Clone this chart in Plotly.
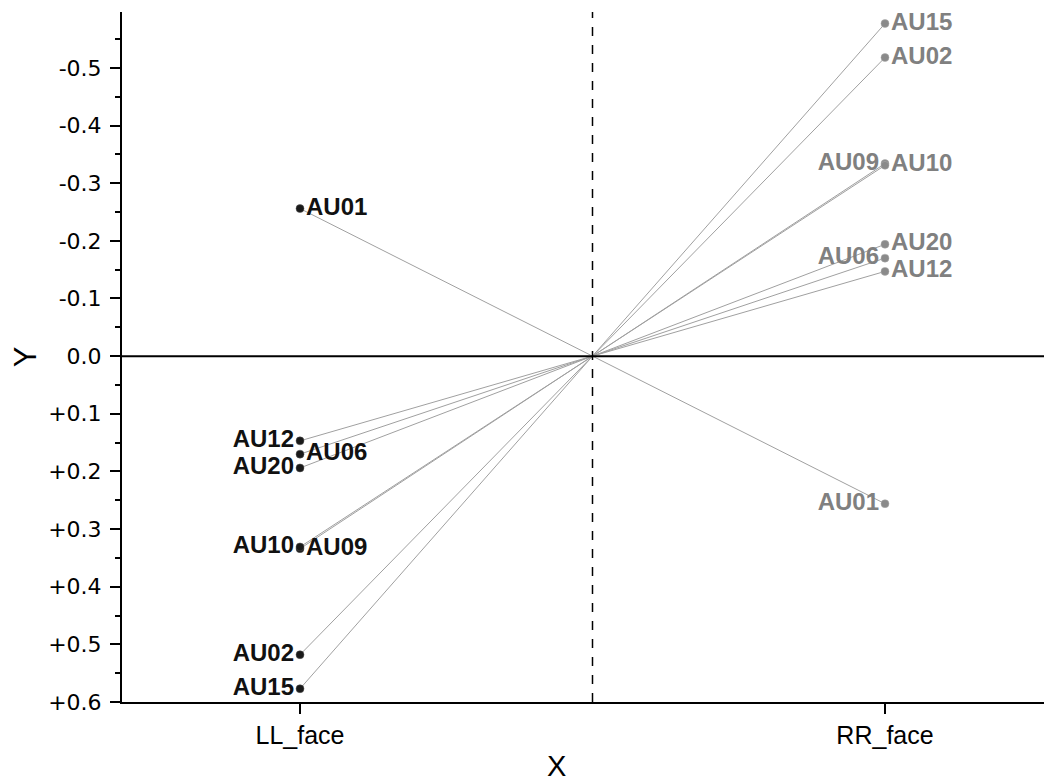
import plotly.graph_objects as go

faces = ["LL_face", "RR_face"]
aus = ["AU01", "AU02", "AU06", "AU09", "AU10", "AU12", "AU15", "AU20"]
ll_vals = [-0.256, 0.518, 0.170, 0.334, 0.331, 0.147, 0.577, 0.194]
rr_vals = [0.256, -0.518, -0.170, -0.334, -0.331, -0.147, -0.577, -0.194]
ytick_vals = [-0.5, -0.4, -0.3, -0.2, -0.1, 0.0, 0.1, 0.2, 0.3, 0.4, 0.5, 0.6]
ytick_text = ["-0.5", "-0.4", "-0.3", "-0.2", "-0.1", "0.0", "+0.1", "+0.2", "+0.3", "+0.4", "+0.5", "+0.6"]

# label placement (style)
ll_pos = {"AU01": "middle right", "AU02": "middle left", "AU06": "middle right",
          "AU09": "middle right", "AU10": "middle left", "AU12": "middle left",
          "AU15": "middle left", "AU20": "middle left"}
rr_pos = {"AU01": "middle left", "AU02": "middle right", "AU06": "middle left",
          "AU09": "middle left", "AU10": "middle right", "AU12": "middle right",
          "AU15": "middle right", "AU20": "middle right"}

FONT = "Liberation Sans, Arial, sans-serif"
TICKFONT = "DejaVu Sans, sans-serif"
fig = go.Figure()

# connecting lines
lx, ly = [], []
for a, l, r in zip(aus, ll_vals, rr_vals):
    lx += [0, 1, None]
    ly += [l, r, None]
fig.add_trace(go.Scatter(x=lx, y=ly, mode="lines",
                         line=dict(color="#a0a0a0", width=1), hoverinfo="skip",
                         showlegend=False))

# zero line and centre dashed line
fig.add_hline(y=0, line=dict(color="black", width=2))
fig.add_vline(x=0.5, line=dict(color="black", width=1.5, dash="dash"))

fig.add_trace(go.Scatter(x=[0] * len(aus), y=ll_vals, mode="markers+text",
                         text=aus, textposition=[ll_pos[a] for a in aus],
                         textfont=dict(family=FONT, size=24, color="#111111", weight="bold"),
                         marker=dict(size=8, color="#1a1a1a", line=dict(color="#555", width=0.5)),
                         showlegend=False, cliponaxis=False))
fig.add_trace(go.Scatter(x=[1] * len(aus), y=rr_vals, mode="markers+text",
                         text=aus, textposition=[rr_pos[a] for a in aus],
                         textfont=dict(family=FONT, size=24, color="#808080", weight="bold"),
                         marker=dict(size=8, color="#8a8a8a", line=dict(color="#aaa", width=0.5)),
                         showlegend=False, cliponaxis=False))

# axis titles
fig.add_annotation(text="X", xref="paper", yref="paper", x=0.4667, y=-0.066,
                   yanchor="top", xanchor="center", showarrow=False,
                   font=dict(family=FONT, size=29, color="black"))
fig.add_annotation(text="Y", xref="paper", yref="paper", x=-0.104, y=0.5,
                   xanchor="center", yanchor="middle", showarrow=False, textangle=-90,
                   font=dict(family=FONT, size=31, color="black"))

fig.update_layout(
    width=1044, height=774,
    margin=dict(l=114, r=0, t=4, b=80),
    plot_bgcolor="white", paper_bgcolor="white",
    font=dict(family=FONT, color="black"),
    xaxis=dict(range=[-0.3043, 1.2855], tickvals=[0, 1], ticktext=faces,
               showgrid=False, zeroline=False, showline=True, linecolor="black", linewidth=2,
               ticks="outside", ticklen=10, tickwidth=2, tickcolor="black",
               tickfont=dict(size=25, family=FONT)),
    yaxis=dict(range=[0.6, -0.597], tickvals=ytick_vals, ticktext=ytick_text,
               showgrid=False, zeroline=False, showline=True, linecolor="black", linewidth=2,
               ticks="outside", ticklen=10, tickwidth=2, tickcolor="black",
               ticklabelstandoff=4,
               tickfont=dict(size=22, family=TICKFONT),
               minor=dict(dtick=0.05, tick0=0, ticks="outside", ticklen=5, tickwidth=2,
                          tickcolor="black", showgrid=False)),
)

fig.write_html("out.html")
